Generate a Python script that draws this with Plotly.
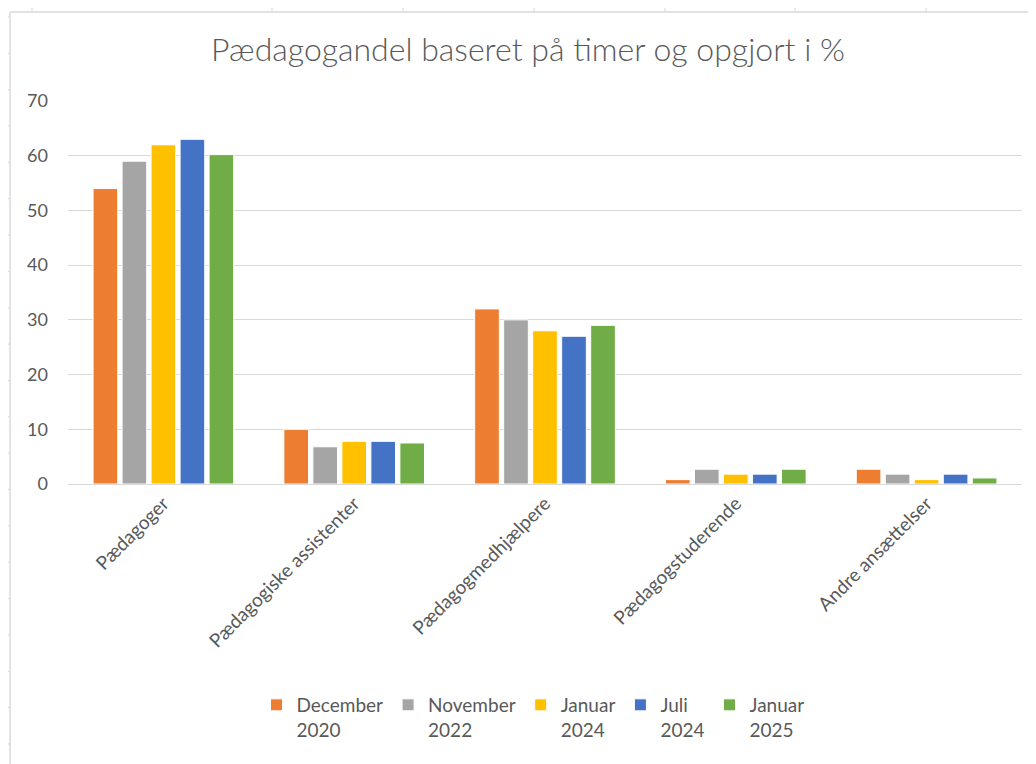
import plotly.graph_objects as go

categories = ["Pædagoger", "Pædagogiske assistenter", "Pædagogmedhjælpere",
              "Pædagogstuderende", "Andre ansættelser"]
series_names = ["December<br>2020", "November<br>2022", "Januar<br>2024",
                "Juli<br>2024", "Januar<br>2025"]
dec_2020 = [54, 10, 32, 0.8, 2.7]
nov_2022 = [59, 6.8, 30, 2.7, 1.8]
jan_2024 = [62, 7.8, 28, 1.8, 0.8]
jul_2024 = [63, 7.8, 27, 1.8, 1.8]
jan_2025 = [60.2, 7.5, 29, 2.7, 1.1]
y_ticks = [0, 10, 20, 30, 40, 50, 60, 70]

series_values = [dec_2020, nov_2022, jan_2024, jul_2024, jan_2025]
colors = ["#ED7D31", "#A5A5A5", "#FFC000", "#4472C4", "#70AD47"]

# page body has an 8px margin, so figure coords = screen coords - 8
W, H = 1028, 756
L, R, T, B = 60, 14, 93, 280
pw, ph = W - L - R, H - T - B

fig = go.Figure()
for name, vals, col in zip(series_names, series_values, colors):
    fig.add_trace(go.Bar(x=categories, y=vals, name=name,
                         marker=dict(color=col, line=dict(color="white", width=1))))

def px_x(p):
    return (p - L) / pw

def px_y(p):
    return (H - B - p) / ph

frame_col = "#D9D9D9"
shapes = []
shapes.append(dict(type="line", xref="paper", yref="paper",
                   x0=px_x(2), x1=px_x(W), y0=px_y(4), y1=px_y(4),
                   line=dict(color=frame_col, width=1.5)))
shapes.append(dict(type="line", xref="paper", yref="paper",
                   x0=px_x(2), x1=px_x(2), y0=px_y(4), y1=px_y(H),
                   line=dict(color=frame_col, width=1.5)))
for xp in [24, 264, 395, 526, 657, 787, 918]:
    shapes.append(dict(type="line", xref="paper", yref="paper",
                       x0=px_x(xp), x1=px_x(xp), y0=px_y(0), y1=px_y(4),
                       line=dict(color=frame_col, width=1)))
yp = 9.0
while yp < H:
    shapes.append(dict(type="line", xref="paper", yref="paper",
                       x0=px_x(0), x1=px_x(2), y0=px_y(yp), y1=px_y(yp),
                       line=dict(color=frame_col, width=1)))
    yp += 36.35

font_main = "Lato, 'Open Sans', sans-serif"
fig.update_layout(
    width=W, height=H,
    margin=dict(l=L, r=R, t=T, b=B, autoexpand=False),
    paper_bgcolor="white", plot_bgcolor="white",
    barmode="group", bargap=0.24, bargroupgap=0.15,
    title=dict(text="Pædagogandel baseret på timer og opgjort i %",
               x=520 / W, xref="container", xanchor="center",
               y=1 - 42 / H, yref="container", yanchor="middle",
               font=dict(family=font_main, size=32, color="#595959", weight=300)),
    font=dict(family=font_main, color="#595959"),
    xaxis=dict(tickangle=-45, tickfont=dict(size=19, color="#595959"),
               showline=True, linecolor=frame_col, linewidth=1,
               ticks="", showgrid=False),
    yaxis=dict(range=[0, 70], tickvals=y_ticks, tickfont=dict(size=18, color="#595959"),
               showgrid=True, gridcolor=frame_col, gridwidth=1,
               zeroline=True, zerolinecolor=frame_col, zerolinewidth=1,
               showline=False, ticks="", ticklabelstandoff=19),
    legend=dict(orientation="h", x=px_x(525), xanchor="center",
                y=px_y(678), yanchor="top", valign="top",
                font=dict(size=19, color="#595959"),
                traceorder="normal", itemwidth=30),
    shapes=shapes,
)

fig.write_html("out.html")
